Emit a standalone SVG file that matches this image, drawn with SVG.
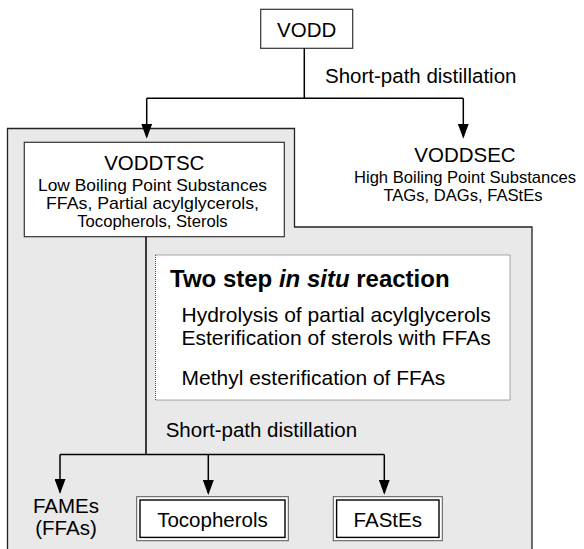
<svg xmlns="http://www.w3.org/2000/svg" width="584" height="549" viewBox="0 0 584 549">
<style>
text{font-family:"Liberation Sans",Arial,sans-serif;fill:#000}
.big{font-size:20.5px}
.sub{font-size:16.6px}
.rx{font-size:21px}
.ttl{font-size:24px;font-weight:bold}
.box{fill:#fff;stroke:#333;stroke-width:1.2}
.c{fill:none;stroke:#000;stroke-width:1.5}
.dbo{fill:#fff;stroke:#555;stroke-width:1}
.dbi{fill:none;stroke:#000;stroke-width:1.4}
</style>
<defs>
<marker id="ah" viewBox="0 0 15 11" markerWidth="15" markerHeight="11" refX="13" refY="5.5" orient="auto" markerUnits="userSpaceOnUse">
<path d="M0,0 L15,5.5 L0,11 Z" fill="#000"/>
</marker>
</defs>
<g id="panel">
<path d="M7.5,128.5 H294.5 V227 H532 V560 H7.5 Z" fill="#e9e9e9" stroke="#222" stroke-width="1.3"/>
</g>
<g id="vodd">
<rect class="box" x="260.7" y="9.3" width="92" height="39"/>
<text class="big" x="306.7" y="36.5" text-anchor="middle">VODD</text>
</g>
<g id="vodttsc">
<rect class="box" x="24.3" y="142.3" width="260" height="94.4"/>
<text class="big" x="154.3" y="169.5" text-anchor="middle">VODDTSC</text>
<text class="sub" x="152.5" y="190.5" text-anchor="middle" textLength="229" lengthAdjust="spacingAndGlyphs">Low Boiling Point Substances</text>
<text class="sub" x="152.5" y="208.5" text-anchor="middle" textLength="213" lengthAdjust="spacingAndGlyphs">FFAs, Partial acylglycerols,</text>
<text class="sub" x="152.5" y="226.5" text-anchor="middle">Tocopherols, Sterols</text>
</g>
<g id="voddsec">
<text class="big" x="465" y="162.3" text-anchor="middle">VODDSEC</text>
<text class="sub" x="465" y="183.3" text-anchor="middle" textLength="222" lengthAdjust="spacingAndGlyphs">High Boiling Point Substances</text>
<text class="sub" x="463" y="201.3" text-anchor="middle">TAGs, DAGs, FAStEs</text>
</g>
<g id="reaction">
<rect x="155.5" y="255" width="354.5" height="145" fill="#fff" stroke="#555" stroke-width="1" stroke-dasharray="1,1"/>
<text class="ttl" x="170" y="286.5">Two step <tspan font-style="italic">in situ</tspan> reaction</text>
<text class="rx" x="181.5" y="322">Hydrolysis of partial acylglycerols</text>
<text class="rx" x="181.5" y="345">Esterification of sterols with FFAs</text>
<text class="rx" x="181.5" y="385">Methyl esterification of FFAs</text>
</g>
<g id="fames">
<text class="big" x="66" y="513.3" text-anchor="middle">FAMEs</text>
<text class="big" x="66" y="535" text-anchor="middle">(FFAs)</text>
</g>
<g id="tocopherols">
<rect class="dbo" x="136.7" y="496.7" width="151.6" height="44"/>
<rect class="dbi" x="140" y="500" width="145" height="37.4"/>
<text class="big" x="212.5" y="526.5" text-anchor="middle">Tocopherols</text>
</g>
<g id="fastes">
<rect class="dbo" x="333.3" y="496.7" width="109" height="44"/>
<rect class="dbi" x="336.6" y="500" width="102.4" height="37.4"/>
<text class="big" x="387.8" y="526.5" text-anchor="middle">FAStEs</text>
</g>
<g id="connectors">
<path class="c" d="M304.3,48.3 V98.3 M146.7,98.3 H463.3"/>
<path class="c" d="M146.7,98.3 V136.7" marker-end="url(#ah)"/>
<path class="c" d="M463.3,98.3 V136.7" marker-end="url(#ah)"/>
<path class="c" d="M146,236.7 V454.5 M60,454.5 H384.3"/>
<path class="c" d="M60,454.5 V492" marker-end="url(#ah)"/>
<path class="c" d="M208.3,454.5 V493" marker-end="url(#ah)"/>
<path class="c" d="M384.3,454.5 V492.7" marker-end="url(#ah)"/>
<text class="big" x="325" y="83.3">Short-path distillation</text>
<text class="big" x="165.7" y="436.7">Short-path distillation</text>
</g>
</svg>
